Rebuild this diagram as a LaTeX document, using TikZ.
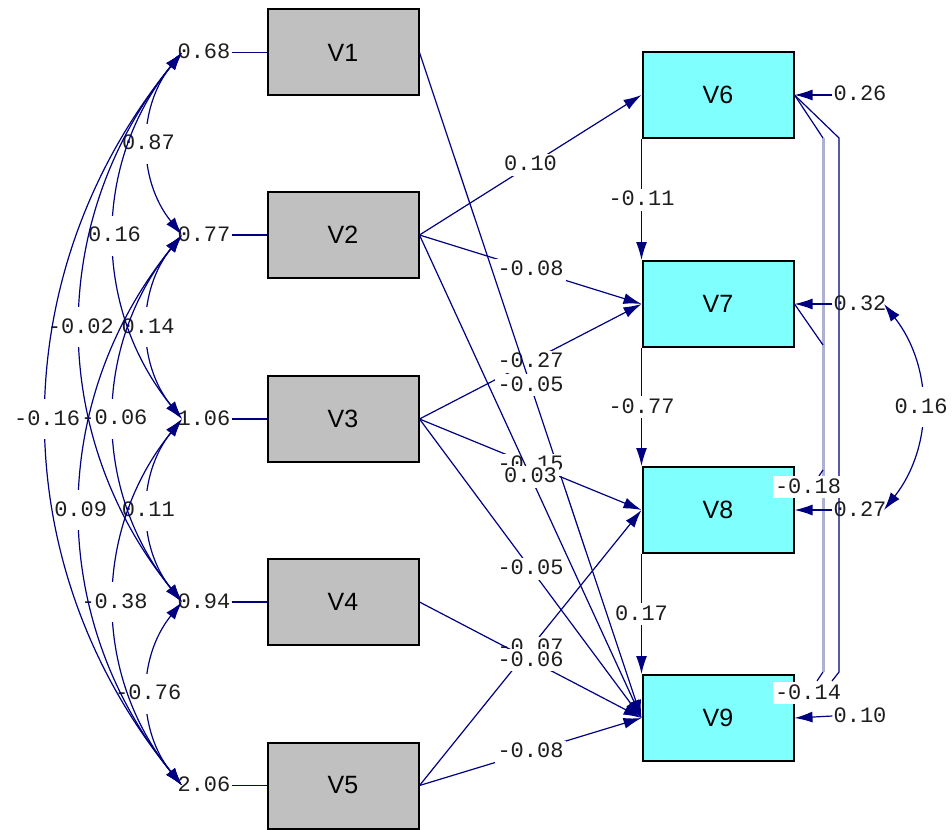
\documentclass[tikz,border=0pt]{standalone}
\usepackage{fontspec}
\setmainfont{Liberation Sans}
\newfontfamily\lblfont{Liberation Mono}
\usetikzlibrary{arrows.meta}
\definecolor{pathblue}{RGB}{0,0,128}
\definecolor{pathlight}{RGB}{176,176,208}
\definecolor{exogray}{RGB}{192,192,192}
\definecolor{endocyan}{RGB}{128,255,255}
\definecolor{labelink}{RGB}{30,30,30}

\begin{document}
\begin{tikzpicture}[x=1pt,y=-1pt,
  obs/.style={draw=black, line width=2pt, minimum width=151pt, minimum height=86pt,
              inner sep=0pt, font=\fontsize{25}{28}\selectfont},
  exo/.style={obs, fill=exogray},
  endo/.style={obs, fill=endocyan},
  val/.style={font=\lblfont\fontsize{22}{24}\selectfont, text=labelink, inner xsep=1pt,
              inner ysep=2pt, text height=14pt, text depth=2pt},
  coef/.style={val, fill=white, inner xsep=2.5pt, inner ysep=3pt},
  covlab/.style={val, fill=white, inner xsep=2pt, inner ysep=12pt},
  link/.style={draw=pathblue, line width=1.2pt},
  arr/.style={link, -{Latex[length=18pt,width=11pt]}},
  dbl/.style={link, {Latex[length=18pt,width=11pt]}-{Latex[length=18pt,width=11pt]}},
]
\useasboundingbox (0,0) rectangle (952,829);

% observed variables
\node[exo] (V1) at (343,52.5) {V1};
\node[exo] (V2) at (343,235) {V2};
\node[exo] (V3) at (343,419) {V3};
\node[exo] (V4) at (343,602) {V4};
\node[exo] (V5) at (343,785.5) {V5};
\node[endo] (V6) at (718,95) {V6};
\node[endo] (V7) at (718,304) {V7};
\node[endo] (V8) at (718,510) {V8};
\node[endo] (V9) at (718,718) {V9};

% variances of the exogenous variables
\node[val] (v1) at (204,52.5) {0.68};
\node[val] (v2) at (204,235) {0.77};
\node[val] (v3) at (204,419) {1.06};
\node[val] (v4) at (204,602) {0.94};
\node[val] (v5) at (204,785.5) {2.06};
\foreach \i in {1,...,5} {
  \draw[link] (v\i.east) -- (V\i.west);
}
\coordinate (a1) at (182,52.5);
\coordinate (a2) at (182,235);
\coordinate (a3) at (182,419);
\coordinate (a4) at (182,602);
\coordinate (a5) at (182,785.5);

% covariances among the exogenous variables
\draw[dbl] (a1) to[bend right=39] node[covlab,midway] {0.87} (a2);
\draw[dbl] (a2) to[bend right=39] node[covlab,midway] {0.14} (a3);
\draw[dbl] (a3) to[bend right=39] node[covlab,midway] {0.11} (a4);
\draw[dbl] (a4) to[bend right=39] node[covlab,midway] {-0.76} (a5);
\draw[dbl] (a1) to[bend right=39] node[covlab,midway] {0.16} (a3);
\draw[dbl] (a2) to[bend right=39] node[covlab,midway] {-0.06} (a4);
\draw[dbl] (a3) to[bend right=39] node[covlab,midway] {-0.38} (a5);
\draw[dbl] (a1) to[bend right=39] node[covlab,midway] {-0.02} (a4);
\draw[dbl] (a2) to[bend right=39] node[covlab,midway] {0.09} (a5);
\draw[dbl] (a1) to[bend right=39] node[covlab,midway] {-0.16} (a5);

% structural paths from the exogenous variables
\draw[arr] (V2.east) -- node[coef,midway] {0.10} (V6.west);
\draw[arr] (V2.east) -- node[coef,midway] {-0.08} (V7.west);
\draw[arr] (V3.east) -- node[coef,midway] {-0.27} (V7.west);
\draw[arr] (V1.east) -- node[coef,midway] {-0.05} (V9.west);
\draw[arr] (V3.east) -- node[coef,midway] {-0.15} (V8.west);
\draw[arr] (V2.east) -- node[coef,midway] {0.03} (V9.west);
\draw[arr] (V3.east) -- node[coef,midway] {-0.05} (V9.west);
\draw[arr] (V5.east) -- node[coef,midway] {-0.07} (V8.west);
\draw[arr] (V4.east) -- node[coef,midway] {-0.06} (V9.west);
\draw[arr] (V5.east) -- node[coef,midway] {-0.08} (V9.west);

% paths among the endogenous variables
\draw[arr] (V6.south west) -- node[coef,midway] {-0.11} (V7.north west);
\draw[arr] (V7.south west) -- node[coef,midway] {-0.77} (V8.north west);
\draw[arr] (V8.south west) -- node[coef,midway] {0.17} (V9.north west);

% paths routed along the right-hand side
\coordinate (k1) at (823,138);
\coordinate (k2) at (823,470);
\coordinate (k3) at (817,479);
\coordinate (k4) at (823,672);
\coordinate (k5) at (823,345);
\coordinate (k6) at (817,681);
\coordinate (m1) at (839,138);
\coordinate (m2) at (839,672);
\coordinate (m3) at (832,681);
\draw[pathlight, line width=3pt] (k1) -- (k4);
\draw[link] (V6.east) -- (k1);
\draw[link] (V7.east) -- (k5);
\draw[link] (k2) -- (k3);
\draw[link] (k4) -- (k6);
\draw[link] (V6.east) -- (m1) -- (m2) -- (m3);
\node[coef] (p8) at (808,487) {-0.18};
\node[coef] (p9) at (808,693) {-0.14};

% error variances of the endogenous variables
\node[val] (e6) at (860,95) {0.26};
\node[val] (e7) at (860,304) {0.32};
\node[val] (e8) at (860,510) {0.27};
\node[val] (e9) at (860,716) {0.10};
\foreach \i in {6,...,9} {
  \draw[arr] (e\i.west) -- (V\i.east);
}

% error covariance between V7 and V8
\coordinate (r7) at (884,304);
\coordinate (r8) at (884,510);
\draw[dbl] (r7) to[bend left=38] node[covlab,midway] {0.16} (r8);
\end{tikzpicture}
\end{document}
